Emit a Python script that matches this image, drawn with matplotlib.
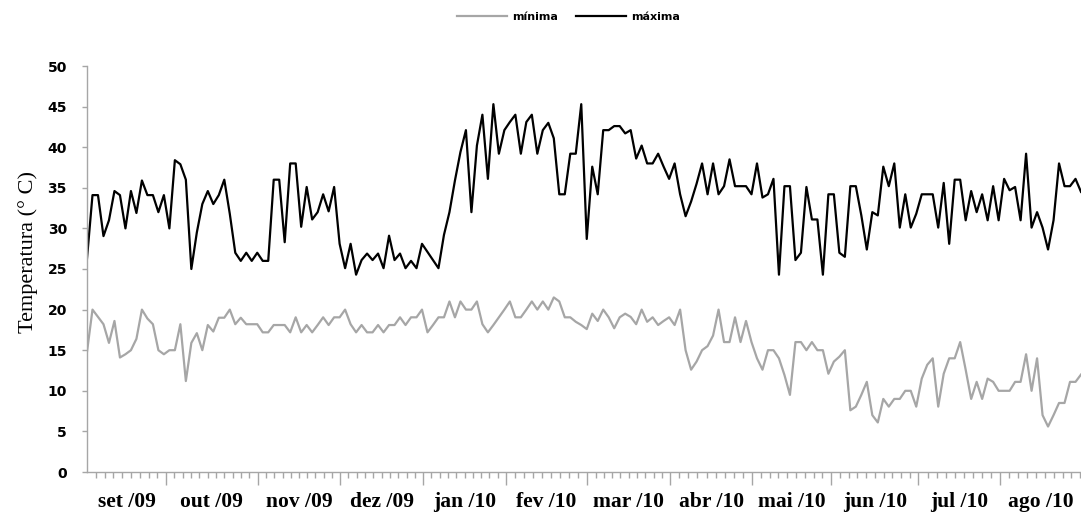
import numpy as np
import matplotlib.pyplot as plt
from matplotlib.transforms import blended_transform_factory

# dados (uma leitura a cada ~2 dias, set/09 a ago/10)
meses = ['set /09', 'out /09', 'nov /09', 'dez /09', 'jan /10', 'fev /10',
         'mar /10', 'abr /10', 'mai /10', 'jun /10', 'jul /10', 'ago /10']

maxima = [26.3, 34.1, 34.1, 29.05, 31, 34.6, 34.1, 30, 34.6, 31.9,
          35.9, 34.1, 34.1, 32, 34.1, 30, 38.4, 37.9, 36, 25,
          29.5, 33, 34.6, 33, 34.1, 36, 31.8, 27, 26, 27,
          26, 27, 26, 26, 36, 36, 28.3, 38, 38, 30.2,
          35.1, 31.1, 32, 34.2, 32.1, 35.1, 28.1, 25.1, 28.1, 24.3,
          26.1, 26.9, 26.1, 26.9, 25.1, 29.1, 26.1, 26.9, 25.1, 26,
          25.1, 28.1, 27.1, 26.1, 25.1, 29.2, 32, 35.9, 39.4, 42.1,
          32, 40.2, 44, 36.1, 45.3, 39.2, 42.1, 43.1, 44, 39.2,
          43.1, 44, 39.2, 42.1, 43, 41.1, 34.2, 34.2, 39.2, 39.2,
          45.3, 28.7, 37.6, 34.2, 42.1, 42.1, 42.6, 42.6, 41.7, 42.1,
          38.6, 40.2, 38, 38, 39.2, 37.6, 36.1, 38, 34.2, 31.5,
          33.3, 35.5, 38, 34.2, 38, 34.2, 35.2, 38.5, 35.2, 35.2,
          35.2, 34.2, 38, 33.8, 34.2, 36.1, 24.3, 35.2, 35.2, 26.1,
          27, 35.1, 31.1, 31.1, 24.3, 34.2, 34.2, 27, 26.5, 35.2,
          35.2, 31.6, 27.4, 32, 31.6, 37.6, 35.2, 38, 30.1, 34.2,
          30.1, 31.8, 34.2, 34.2, 34.2, 30.1, 35.6, 28.1, 36, 36,
          31, 34.6, 32, 34.2, 31, 35.2, 31, 36.1, 34.7, 35.1,
          31, 39.2, 30.1, 32, 30.1, 27.4, 31, 38, 35.2, 35.2,
          36.1, 34.5]

minima = [14.8, 20, 19.1, 18.2, 15.9, 18.6, 14.1, 14.5, 15, 16.4,
          20, 18.9, 18.2, 15, 14.5, 15, 15, 18.2, 11.2, 15.9,
          17.1, 15, 18.1, 17.3, 19, 19, 20, 18.2, 19, 18.2,
          18.2, 18.2, 17.2, 17.2, 18.1, 18.1, 18.1, 17.2, 19.05, 17.2,
          18.1, 17.2, 18.1, 19.05, 18.1, 19.05, 19.05, 20, 18.2, 17.2,
          18.1, 17.2, 17.2, 18.1, 17.2, 18.1, 18.1, 19.05, 18.1, 19.05,
          19.05, 20, 17.2, 18.1, 19.05, 19.05, 21, 19.05, 21, 20,
          20, 21, 18.2, 17.2, 18.1, 19.05, 20, 21, 19.05, 19.05,
          20, 21, 20, 21, 20, 21.5, 21, 19.05, 19.05, 18.5,
          18.1, 17.6, 19.5, 18.6, 20, 19.05, 17.7, 19.05, 19.5, 19.1,
          18.2, 20, 18.5, 19.05, 18.1, 18.6, 19.05, 18.1, 20, 15,
          12.6, 13.6, 15, 15.5, 16.8, 20, 16, 16, 19.05, 16,
          18.6, 16, 14, 12.6, 15, 15, 14, 11.95, 9.5, 16,
          16, 15, 16, 15, 15, 12.1, 13.6, 14.2, 15, 7.6,
          8.05, 9.5, 11.1, 7, 6.1, 9, 8.05, 9, 9, 10,
          10, 8.05, 11.5, 13.2, 14, 8.05, 12.1, 14, 14, 16,
          12.6, 9, 11.1, 9, 11.5, 11.1, 10, 10, 10, 11.1,
          11.1, 14.5, 10, 14, 7, 5.6, 7, 8.5, 8.5, 11.1,
          11.1, 12]

# limites entre meses (posicao no eixo, em numero de leituras)
limites_mes = [14.4, 31.1, 46.1, 61.2, 76.3, 91.1, 106.2, 121.1, 135.5, 151.4, 166.3]
x_fim = 181

cinza = '#a6a6a6'
x = np.arange(len(maxima))

fig = plt.figure(figsize=(10.81, 5.13), dpi=100)
ax = fig.add_axes([87 / 1081, 41 / 513, 994 / 1081, 406 / 513])

ax.plot(x, minima, color=cinza, lw=1.6, label='mínima')
ax.plot(x, maxima, color='black', lw=1.6, label='máxima')

ax.set_xlim(0, x_fim)
ax.set_ylim(0, 50)

for s in ['top', 'right']:
    ax.spines[s].set_visible(False)
for s in ['left', 'bottom']:
    ax.spines[s].set_color(cinza)
    ax.spines[s].set_linewidth(1)

# eixo y
ax.set_yticks(range(0, 51, 5))
ax.tick_params(axis='y', length=3.6, width=1, color=cinza, pad=10.8, labelsize=10)
plt.setp(ax.get_yticklabels(), fontweight='bold', family='DejaVu Sans')

# eixo x: marcas maiores nos limites dos meses, menores dentro
bordas = [0] + limites_mes + [x_fim + 1.5]
menores = []
for a, b in zip(bordas[:-1], bordas[1:]):
    n = int(round((b - a) / 1.57))
    for k in range(1, n):
        menores.append(a + (b - a) * k / n)
ax.set_xticks(limites_mes)
ax.set_xticklabels([])
ax.set_xticks(menores, minor=True)
ax.tick_params(axis='x', which='major', length=9.4, width=1, color=cinza)
ax.tick_params(axis='x', which='minor', length=4.3, width=1, color=cinza)

trans = blended_transform_factory(ax.transData, ax.transAxes)
bordas_txt = [0] + limites_mes + [x_fim]
for i, m in enumerate(meses):
    meio = (bordas_txt[i] + bordas_txt[i + 1]) / 2
    ax.text(meio, -0.074, m, transform=trans, ha='center', va='center',
            fontsize=15.5, fontweight='bold', family='Liberation Serif')

fig.text(28 / 1081, 1 - 252 / 513, 'Temperatura (° C)', rotation=90,
         ha='center', va='center', fontsize=16, family='Liberation Serif')

fig.legend(loc='center', bbox_to_anchor=(0.526, 0.967), ncol=2, frameon=False,
           prop={'weight': 'bold', 'size': 8}, handlelength=4.5,
           handletextpad=0.5, columnspacing=1.6)

fig.savefig('out.png', dpi=100)
